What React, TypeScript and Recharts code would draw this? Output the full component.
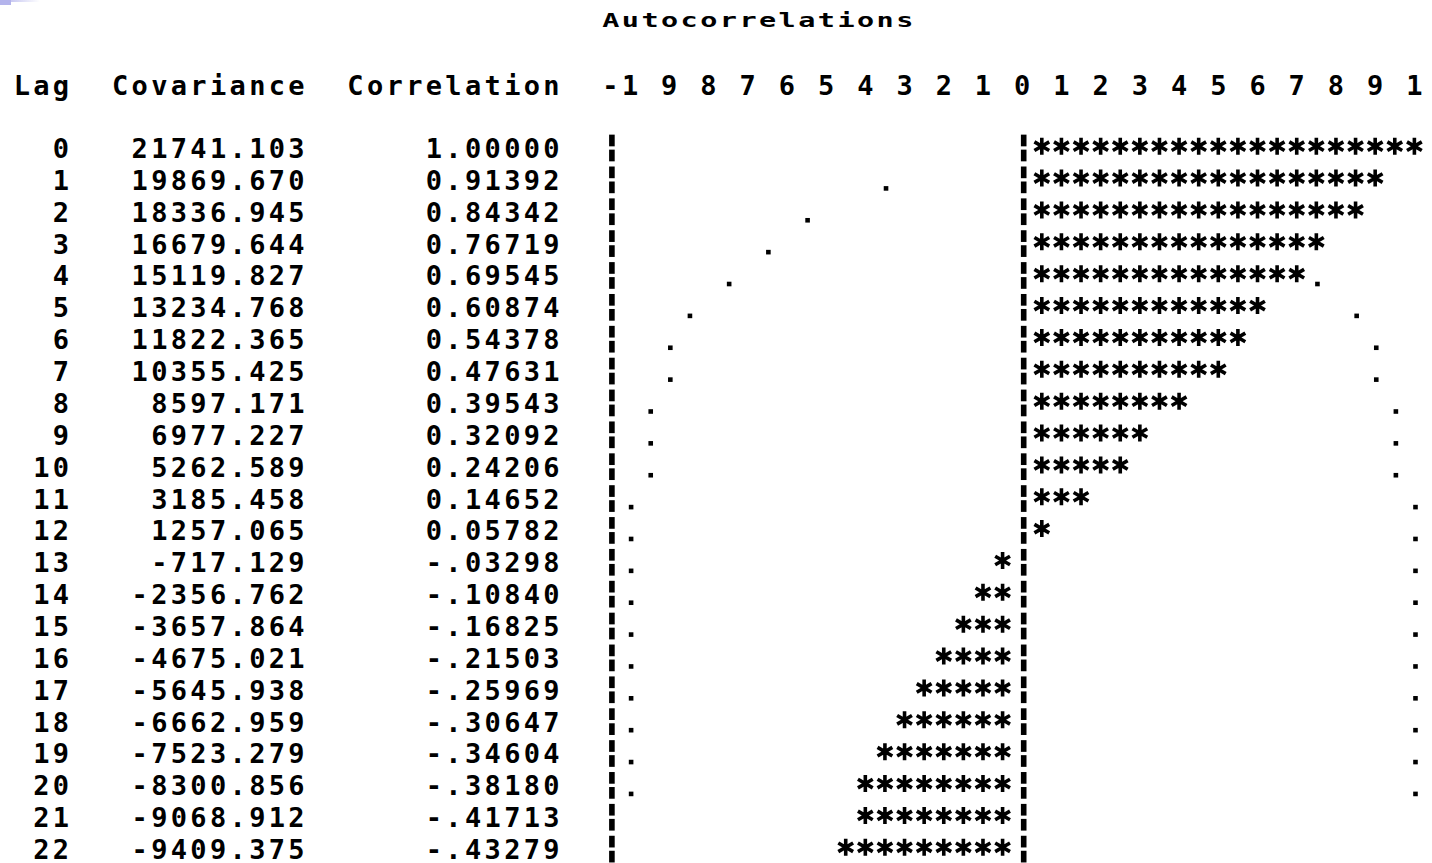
import {
  Bar,
  ComposedChart,
  Customized,
  ReferenceLine,
  Scatter,
  XAxis,
  YAxis
} from "recharts";

const LAGS = [0, 1, 2, 3, 4, 5, 6, 7, 8, 9, 10, 11, 12, 13, 14, 15, 16, 17, 18, 19, 20, 21, 22];
const COVARIANCES = [
  21741.103, 19869.67, 18336.945, 16679.644, 15119.827, 13234.768, 11822.365, 10355.425,
  8597.171, 6977.227, 5262.589, 3185.458, 1257.065, -717.129, -2356.762, -3657.864,
  -4675.021, -5645.938, -6662.959, -7523.279, -8300.856, -9068.912, -9409.375
];
const CORRELATIONS = [
  1.0, 0.91392, 0.84342, 0.76719, 0.69545, 0.60874, 0.54378, 0.47631, 0.39543, 0.32092,
  0.24206, 0.14652, 0.05782, -0.03298, -0.1084, -0.16825, -0.21503, -0.25969, -0.30647,
  -0.34604, -0.3818, -0.41713, -0.43279
];
// the "." marks (two standard errors)
const UPPER_LIMITS = [
  null, 0.35, 0.55, 0.65, 0.75, 0.85, 0.9, 0.9, 0.95, 0.95, 0.95, 1, 1, 1, 1, 1, 1, 1, 1, 1, 1,
  null, null
];
const LOWER_LIMITS = [
  null, -0.35, -0.55, -0.65, -0.75, -0.85, -0.9, -0.9, -0.95, -0.95, -0.95, -1, -1, -1, -1, -1,
  -1, -1, -1, -1, -1, null, null
];
const TICKS = [-1, -0.9, -0.8, -0.7, -0.6, -0.5, -0.4, -0.3, -0.2, -0.1, 0, 0.1, 0.2, 0.3, 0.4, 0.5, 0.6, 0.7, 0.8, 0.9, 1];
const TICK_LABELS = ["-1", "9", "8", "7", "6", "5", "4", "3", "2", "1", "0", "1", "2", "3", "4", "5", "6", "7", "8", "9", "1"];

const rows = LAGS.map((lag, i) => ({
  lag,
  cov: COVARIANCES[i],
  corr: CORRELATIONS[i],
  upper: UPPER_LIMITS[i],
  lower: LOWER_LIMITS[i]
}));

const CHAR_W = 19.6;
const FONT = '"DejaVu Sans Mono", "Liberation Mono", monospace';
const LAG_END = 61;
const COV_END = 296.5;
const CORR_END = 551.5;
const TITLE_START = 610.8;

function fmtCorr(v: number) {
  if (v < 0) return "-" + Math.abs(v).toFixed(5).slice(1);
  return v.toFixed(5);
}

// monospaced text: one x per character, every glyph centred in its cell
function GridText({ text, end, y, size = 27, weight = "bold" }: any) {
  const chars = Array.from(text as string);
  const xs = chars.map((_, i) => (end - (chars.length - 1 - i) * CHAR_W).toFixed(2));
  return (
    <text x={xs.join(" ")} y={y} textAnchor="middle" fontFamily={FONT} fontSize={size} fontWeight={weight} fill="#000">
      {text}
    </text>
  );
}

function RowTick(props: any) {
  const { y, payload } = props;
  const i = LAGS.indexOf(payload.value);
  if (i < 0) return null;
  const base = y + 10;
  return (
    <g>
      <GridText text={String(LAGS[i])} end={LAG_END} y={base} />
      <GridText text={COVARIANCES[i].toFixed(3)} end={COV_END} y={base} />
      <GridText text={fmtCorr(CORRELATIONS[i])} end={CORR_END} y={base} />
    </g>
  );
}

function ScaleTick(props: any) {
  const { x, y, payload } = props;
  const label = TICK_LABELS[TICKS.indexOf(payload.value)] ?? "";
  return <GridText text={label} end={x} y={y - 37} />;
}

function Headers() {
  const title = "Autocorrelations";
  return (
    <g>
      {Array.from(title).map((ch, i) => (
        <text
          key={i}
          transform={`translate(${(TITLE_START + i * CHAR_W).toFixed(2)},27) scale(1.5,1)`}
          textAnchor="middle"
          fontFamily={FONT}
          fontSize={19}
          fontWeight="bold"
          fill="#000"
        >
          {ch}
        </text>
      ))}
      <GridText text="Lag" end={LAG_END} y={95} />
      <GridText text="Covariance" end={COV_END} y={95} />
      <GridText text="Correlation" end={CORR_END} y={95} />
    </g>
  );
}

function Star({ cx, cy }: { cx: number; cy: number }) {
  const d = `M${cx},${cy - 8.5}L${cx},${cy + 8.5}M${cx - 7.4},${cy - 4.3}L${cx + 7.4},${cy + 4.3}M${cx - 7.4},${cy + 4.3}L${cx + 7.4},${cy - 4.3}`;
  return <path d={d} stroke="#000" strokeWidth={3.6} fill="none" />;
}

function StarBar(props: any) {
  const { x, y, width, height, payload } = props;
  const r = payload.corr;
  const n = Math.round(Math.abs(r) * 20);
  if (!n || !Number.isFinite(width)) return <g />;
  const zero = r >= 0 ? Math.min(x, x + width) : Math.max(x, x + width);
  const dir = r >= 0 ? 1 : -1;
  const step = Math.abs(width) / (Math.abs(r) * 20);
  const cy = y + height / 2 - 1.5;
  return (
    <g>
      {Array.from({ length: n }, (_, k) => (
        <Star key={k} cx={zero + dir * (k + 1) * step} cy={cy} />
      ))}
    </g>
  );
}

function makeDot(side: "upper" | "lower") {
  return function LimitDot(props: any) {
    const { cx, cy, payload } = props;
    const lim = payload[side];
    if (lim == null || !Number.isFinite(cx) || !Number.isFinite(cy)) return <g />;
    const stars = Math.round(Math.abs(payload.corr) * 20);
    const sameSide = side === "upper" ? payload.corr > 0 : payload.corr < 0;
    if (sameSide && stars >= Math.round(Math.abs(lim) * 20)) return <g />;
    return <rect x={cx - 1.2} y={cy + 6.3} width={4.6} height={4.6} fill="#000" />;
  };
}

function BrokenBar(props: any) {
  const { x1, y1, y2 } = props;
  const top = Math.min(y1, y2);
  const bottom = Math.max(y1, y2);
  const band = (bottom - top) / LAGS.length;
  const x = x1 + 1.5;
  return (
    <g>
      {LAGS.map((_, i) => {
        const c = top + band * (i + 0.5);
        return (
          <g key={i}>
            <rect x={x - 2.8} y={c - 13.3} width={5.6} height={11.7} fill="#000" />
            <rect x={x - 2.8} y={c + 1.7} width={5.6} height={11.7} fill="#000" />
          </g>
        );
      })}
    </g>
  );
}

export default function App() {
  return (
    <div style={{ position: "fixed", left: 0, top: 0, width: 1432, height: 863, overflow: "hidden", background: "#fff" }}>
      <div style={{ position: "absolute", left: 0, top: 0, width: 40, height: 2, background: "linear-gradient(90deg, #b4b4ec, #ffffff)" }} />
      <div style={{ position: "absolute", left: 0, top: 0, width: 11, height: 5, background: "#b4b4ec" }} />
      <ComposedChart
        width={1434}
        height={865}
        data={rows}
        layout="vertical"
        margin={{ top: 72, right: 0, bottom: 0, left: 0 }}
        style={{ position: "absolute", left: 0, top: 0 }}
      >
        <XAxis
          type="number"
          orientation="top"
          domain={[-1.05, 1.05]}
          ticks={TICKS}
          interval={0}
          height={60}
          axisLine={false}
          tickLine={false}
          tickSize={0}
          tickMargin={0}
          tick={<ScaleTick />}
        />
        <YAxis
          type="category"
          dataKey="lag"
          width={610.4}
          interval={0}
          axisLine={false}
          tickLine={false}
          tick={<RowTick />}
        />
        <ReferenceLine x={-1.05} shape={<BrokenBar />} ifOverflow="visible" />
        <ReferenceLine x={0} shape={<BrokenBar />} />
        <Bar dataKey="corr" shape={<StarBar />} isAnimationActive={false} />
        <Scatter dataKey="upper" shape={makeDot("upper")} isAnimationActive={false} />
        <Scatter dataKey="lower" shape={makeDot("lower")} isAnimationActive={false} />
        <Customized component={Headers} />
      </ComposedChart>
    </div>
  );
}
